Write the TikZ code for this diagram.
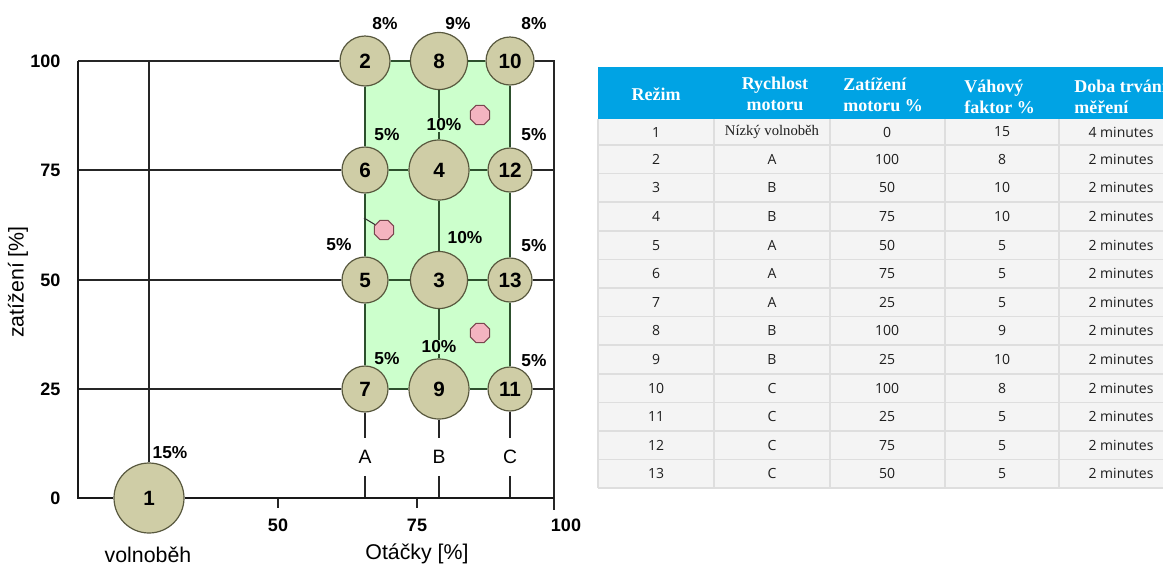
\documentclass[tikz,border=0pt]{standalone}
\usepackage{fontspec}
\setmainfont{Liberation Sans}
\newfontfamily\headfont{Liberation Serif}
\newfontfamily\cellfont{Open Sans}
\usepackage{xcolor}
\usetikzlibrary{shapes.geometric,positioning,calc}

\definecolor{khaki}{RGB}{207,205,166}
\definecolor{khakiedge}{RGB}{88,88,62}
\definecolor{lightgreen}{RGB}{204,255,204}
\definecolor{darkgreen}{RGB}{45,80,45}
\definecolor{pinkfill}{RGB}{244,180,192}
\definecolor{pinkedge}{RGB}{120,70,78}
\definecolor{headblue}{RGB}{0,163,228}
\definecolor{rowgray}{RGB}{244,244,244}
\definecolor{rowsep}{RGB}{222,222,222}
\definecolor{cellgray}{RGB}{30,30,30}

\begin{document}
\begin{tikzpicture}[x=0.75pt,y=-0.75pt,
    mode/.style={circle, draw=khakiedge, line width=0.9pt, fill=khaki, inner sep=0pt,
        minimum size=#1*0.75pt, font=\fontsize{15.5}{16}\selectfont\bfseries},
    pct/.style={inner sep=1pt, font=\fontsize{13}{14}\selectfont\bfseries},
    ticklabel/.style={inner sep=1pt, font=\fontsize{13.5}{15}\selectfont\bfseries},
    axislabel/.style={inner sep=0pt, font=\fontsize{16}{18}\selectfont},
    speed/.style={inner xsep=0pt, inner ysep=9pt, font=\fontsize{14.5}{16}\selectfont},
    gridline/.style={line width=1.1pt, black!85},
    innerline/.style={line width=1.1pt, darkgreen},
    axisline/.style={line width=2.2pt, black!90},
    pinkdot/.style={regular polygon, regular polygon sides=8, minimum size=21*0.75pt,
        inner sep=0pt, fill=pinkfill, draw=pinkedge, line width=0.8pt},
    headcell/.style={text=white, inner sep=0pt, font=\headfont\fontsize{13.5}{16}\selectfont\bfseries},
    cell/.style={text=cellgray, inner sep=0pt, font=\cellfont\fontsize{10.5}{12}\selectfont},
    rowline/.style={line width=1.2pt, rowsep}
]
    \useasboundingbox (0,0) rectangle (1163,565);

    % Test area
    \fill[lightgreen] (365,61) rectangle (510,389);

    % Corner points of the chart
    \coordinate (o) at (78,498);
    \coordinate (y100) at (78,61);
    \coordinate (y75) at (78,170);
    \coordinate (y50) at (78,280);
    \coordinate (y25) at (78,389);
    \coordinate (r100) at (554,61);
    \coordinate (r75) at (554,170);
    \coordinate (r50) at (554,280);
    \coordinate (r25) at (554,389);
    \coordinate (r0) at (554,498);
    \coordinate (idle) at (149,61);

    % Modes
    \node[mode=70] (m1) at (149,498) {1};
    \node[mode=50] (m2) at (365,61) {2};
    \node[mode=57] (m3) at (439,280) {3};
    \node[mode=60] (m4) at (439,170) {4};
    \node[mode=46] (m5) at (365,280) {5};
    \node[mode=46] (m6) at (365,170) {6};
    \node[mode=46] (m7) at (365,389) {7};
    \node[mode=57] (m8) at (439,61) {8};
    \node[mode=60] (m9) at (439,389) {9};
    \node[mode=48] (m10) at (510,61) {10};
    \node[mode=44] (m11) at (510,389) {11};
    \node[mode=44] (m12) at (510,170) {12};
    \node[mode=44] (m13) at (510,280) {13};

    % Speed labels
    \node[speed] (sA) at (365,457) {A};
    \node[speed] (sB) at (439,457) {B};
    \node[speed] (sC) at (510,457) {C};

    % Grid outside the test area
    \draw[gridline] (y100) -- (m2);
    \draw[gridline] (y75) -- (m6);
    \draw[gridline] (y50) -- (m5);
    \draw[gridline] (y25) -- (m7);
    \draw[gridline] (m10) -- (r100) -- (r0) -- ++(0,12);
    \draw[gridline] (m12) -- (r75);
    \draw[gridline] (m13) -- (r50);
    \draw[gridline] (m11) -- (r25);
    \draw[gridline] (idle) -- (m1);
    \draw[gridline] (m7) -- (sA) -- (sA |- o);
    \draw[gridline] (m9) -- (sB) -- (sB |- o);
    \draw[gridline] (m11) -- (sC) -- (sC |- o);
    \draw[gridline] (278,498) -- (278,508);
    \draw[gridline] (417,498) -- (417,508);

    % Grid inside the test area
    \draw[innerline] (m2) -- (m8) -- (m10);
    \draw[innerline] (m6) -- (m4) -- (m12);
    \draw[innerline] (m5) -- (m3) -- (m13);
    \draw[innerline] (m7) -- (m9) -- (m11);
    \draw[innerline] (m2) -- (m6) -- (m5) -- (m7);
    \draw[innerline] (m8) -- (m4) -- (m3) -- (m9);
    \draw[innerline] (m10) -- (m12) -- (m13) -- (m11);

    % Axes
    \draw[axisline] (y100) -- (o) -- (m1);
    \draw[axisline] (m1) -- (r0);

    % Weights
    \node[pct] (p2) at (385,24) {8\%};
    \node[pct] (p8) at (458,24) {9\%};
    \node[pct] (p10) at (534,24) {8\%};
    \node[pct] (p6) at (387,135) {5\%};
    \node[pct, fill=lightgreen] (p4) at (444,125) {10\%};
    \node[pct] (p12) at (534,135) {5\%};
    \node[pct] (p5) at (339,245) {5\%};
    \node[pct] (p3) at (465,238) {10\%};
    \node[pct] (p13) at (534,246) {5\%};
    \node[pct] (p7) at (387,359) {5\%};
    \node[pct, fill=lightgreen] (p9) at (439,347) {10\%};
    \node[pct] (p11) at (534,361) {5\%};
    \node[pct] (p1) at (170,453) {15\%};

    % Extra points
    \node[pinkdot] (x1) at (480,115) {};
    \node[pinkdot] (x2) at (384,230) {};
    \node[pinkdot] (x3) at (480,333) {};
    \coordinate (x2tail) at (364,218);
    \draw[line width=0.8pt, black!80] (x2tail) -- (x2);

    % Axis numbers
    \node[ticklabel, anchor=east] (t100) at (62,61) {100};
    \node[ticklabel, anchor=east] (t75) at (62,170) {75};
    \node[ticklabel, anchor=east] (t50) at (62,280) {50};
    \node[ticklabel, anchor=east] (t25) at (62,389) {25};
    \node[ticklabel, anchor=east] (t0) at (62,498) {0};
    \node[ticklabel] (u50) at (278,525) {50};
    \node[ticklabel] (u75) at (417,525) {75};
    \node[ticklabel] (u100) at (566,525) {100};

    % Axis titles
    \node[axislabel, rotate=90] (ytitle) at (18,282) {zatížení [\%]};
    \node[axislabel] (idletitle) at (148,555) {volnoběh};
    \node[axislabel] (xtitle) at (417,554) {Otáčky [\%]};

    % Table
    \fill[headblue] (598,67) rectangle (1163,119);
    \fill[rowgray] (598,119) rectangle (1163,488);
    \foreach \j in {0,...,12}
        \draw[rowline] (598,{145+\j*28.6}) -- (1163,{145+\j*28.6});
    \foreach \x in {598,714,830,945,1059}
        \draw[rowline] (\x,119) -- (\x,488);

    \node[headcell] (hMode) at (656,94) {Režim};
    \node[headcell, align=center] (hSpeed) at (775,94) {Rychlost\\motoru};
    \node[headcell, align=left, anchor=west] (hLoad) at (843,95) {Zatížení\\motoru \%};
    \node[headcell, align=left, anchor=west] (hWeight) at (964,97) {Váhový\\faktor \%};
    \node[headcell, align=left, anchor=west] (hTime) at (1074,97) {Doba trvání\\měření};

    \foreach \nr/\rs/\rl/\rw/\rt [count=\k] in {
        1/{\headfont\fontsize{11}{12}\selectfont Nízký volnoběh}/0/15/4 minutes,
        2/A/100/8/2 minutes, 3/B/50/10/2 minutes, 4/B/75/10/2 minutes,
        5/A/50/5/2 minutes, 6/A/75/5/2 minutes, 7/A/25/5/2 minutes,
        8/B/100/9/2 minutes, 9/B/25/10/2 minutes, 10/C/100/8/2 minutes,
        11/C/25/5/2 minutes, 12/C/75/5/2 minutes, 13/C/50/5/2 minutes}{
        \pgfmathsetmacro\ry{ifthenelse(\k==1,132,159.3+(\k-2)*28.6)}
        \node[cell] (r\k c1) at (656,\ry) {\nr};
        \node[cell] (r\k c2) at (772,\ry) {\rs};
        \node[cell] (r\k c3) at (887,\ry) {\rl};
        \node[cell] (r\k c4) at (1002,\ry) {\rw};
        \node[cell] (r\k c5) at (1121,\ry) {\rt};
    }
\end{tikzpicture}
\end{document}
